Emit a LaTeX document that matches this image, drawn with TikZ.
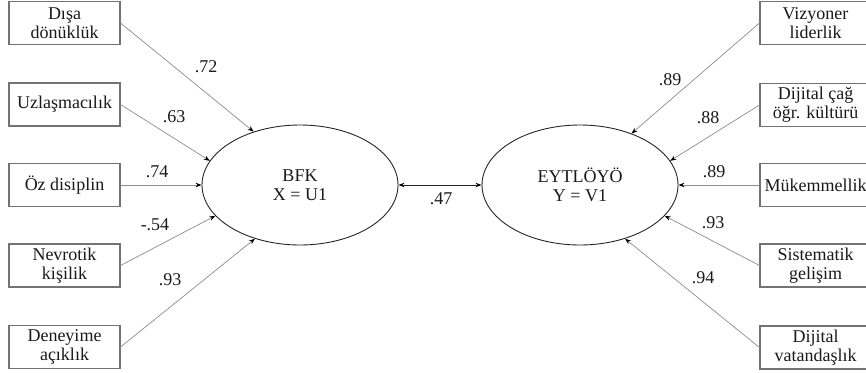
\documentclass[tikz,border=0pt]{standalone}
\usepackage{fontspec}
\setmainfont{Liberation Serif}
\usetikzlibrary{shapes.geometric,arrows.meta}

\begin{document}
\begin{tikzpicture}[x=1pt,y=-1pt,
  every node/.style={font=\fontsize{18}{19}\selectfont, text=black!90},
  indbox/.style={draw=black!55, line width=1.1pt, minimum width=111pt,
    minimum height=43pt, inner sep=0pt, align=center},
  latent/.style={ellipse, draw=black!85, line width=0.9pt, minimum width=196pt,
    minimum height=120pt, inner sep=0pt, align=center},
  load/.style={draw=black!45, line width=0.7pt,
    -{Stealth[length=6pt,width=4.5pt,black]}},
  corr/.style={draw=black!85, line width=0.9pt,
    {Stealth[length=6pt,width=4.5pt,black]}-{Stealth[length=6pt,width=4.5pt,black]}},
  coef/.style={inner sep=0pt}
]
\clip (0,0) rectangle (866,372);

% latent variables
\node[latent] (bfk) at (300,185) {BFK\\X = U1};
\node[latent] (eyt) at (580,185) {EYTLÖYÖ\\Y = V1};

% left indicators
\node[indbox] (l1) at (64.5,23)  {Dışa\\dönüklük};
\node[indbox] (l2) at (64.5,104.5) {Uzlaşmacılık};
\node[indbox] (l3) at (64.5,185) {Öz disiplin};
\node[indbox] (l4) at (64.5,265.5) {Nevrotik\\kişilik};
\node[indbox] (l5) at (64.5,347) {Deneyime\\açıklık};

% right indicators
\node[indbox] (r1) at (815.5,23)  {Vizyoner\\liderlik};
\node[indbox] (r2) at (815.5,105) {Dijital çağ\\öğr. kültürü};
\node[indbox] (r3) at (815.5,185) {Mükemmellik};
\node[indbox] (r4) at (815.5,265.5) {Sistematik\\gelişim};
\node[indbox] (r5) at (815.5,347.5) {Dijital\\vatandaşlık};

% loadings
\draw[load] (l1.east) -- (bfk.131);
\draw[load] (l2.east) -- (bfk.165);
\draw[load] (l3.east) -- (bfk.180);
\draw[load] (l4.east) -- (bfk.200);
\draw[load] (l5.east) -- (bfk.230);

\draw[load] (r1.west) -- (eyt.45);
\draw[load] (r2.west) -- (eyt.15);
\draw[load] (r3.west) -- (eyt.0);
\draw[load] (r4.west) -- (eyt.-20);
\draw[load] (r5.west) -- (eyt.-50);

% canonical correlation
\draw[corr] (bfk.east) -- (eyt.west);

% coefficients
\node[coef] (c1) at (206,67)  {.72};
\node[coef] (c2) at (174,117) {.63};
\node[coef] (c3) at (157,172) {.74};
\node[coef] (c4) at (155,225) {-.54};
\node[coef] (c5) at (170,280) {.93};

\node[coef] (d1) at (670,80)  {.89};
\node[coef] (d2) at (708,118) {.88};
\node[coef] (d3) at (714,172) {.89};
\node[coef] (d4) at (713,223) {.93};
\node[coef] (d5) at (703,278) {.94};

\node[coef] (rc) at (441,199) {.47};
\end{tikzpicture}
\end{document}
